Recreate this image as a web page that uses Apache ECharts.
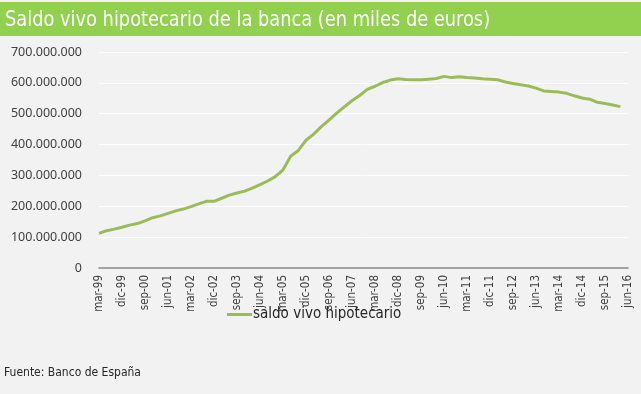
<!DOCTYPE html>
<html><head><meta charset="utf-8">
<script src="https://cdn.jsdelivr.net/npm/echarts@6/dist/echarts.min.js"></script>
<style>html,body{margin:0;padding:0;background:#f2f2f2}#c{width:641px;height:394px}</style>
</head><body><div id="c"></div>
<script>
const titleText = 'Saldo vivo hipotecario de la banca (en miles de euros)';
const sourceText = 'Fuente: Banco de España';
const seriesName = 'saldo vivo hipotecario';
const categories = [
 'mar-99','jun-99','sep-99','dic-99','mar-00','jun-00','sep-00','dic-00',
 'mar-01','jun-01','sep-01','dic-01','mar-02','jun-02','sep-02','dic-02',
 'mar-03','jun-03','sep-03','dic-03','mar-04','jun-04','sep-04','dic-04',
 'mar-05','jun-05','sep-05','dic-05','mar-06','jun-06','sep-06','dic-06',
 'mar-07','jun-07','sep-07','dic-07','mar-08','jun-08','sep-08','dic-08',
 'mar-09','jun-09','sep-09','dic-09','mar-10','jun-10','sep-10','dic-10',
 'mar-11','jun-11','sep-11','dic-11','mar-12','jun-12','sep-12','dic-12',
 'mar-13','jun-13','sep-13','dic-13','mar-14','jun-14','sep-14','dic-14',
 'mar-15','jun-15','sep-15','dic-15','mar-16','jun-16'
];
const saldoVivo = [
 112000000,121000000,126000000,132000000,139000000,144000000,153000000,163000000,
 169000000,177000000,185000000,191000000,199000000,208000000,216000000,216000000,
 226000000,236000000,243000000,249000000,259000000,270000000,282000000,296000000,
 318000000,362000000,381000000,414000000,434000000,458000000,479000000,502000000,
 522000000,542000000,559000000,579000000,589000000,601000000,609000000,613000000,
 611000000,610000000,610000000,612000000,614000000,621000000,617000000,620000000,
 617000000,616000000,613000000,612000000,610000000,603000000,598000000,594000000,
 590000000,583000000,574000000,572000000,570000000,566000000,558000000,551000000,
 547000000,537000000,533000000,528000000,523000000
];
const yTicks = {min: 0, max: 700000000, interval: 100000000};

const narrow = "'DejaVu Sans Condensed','Liberation Sans Narrow',sans-serif";
const chart = echarts.init(document.getElementById('c'), null, {renderer: 'canvas'});
chart.setOption({
  backgroundColor: '#f2f2f2',
  animation: false,
  graphic: [
    {type: 'rect', shape: {x: 0, y: 2, width: 641, height: 34}, style: {fill: '#92D050'}, silent: true},
    {type: 'text', x: 5, y: 20, scaleX: 0.9, style: {text: titleText, fill: '#ffffff', font: '22px ' + narrow, verticalAlign: 'middle'}},
    {type: 'text', x: 4, y: 373, scaleX: 0.96, style: {text: sourceText, fill: '#262626', font: '12.5px ' + narrow, verticalAlign: 'middle'}}
  ],
  legend: {
    data: [seriesName],
    left: 222, top: 302,
    icon: 'rect', itemWidth: 25, itemHeight: 3, itemGap: 4,
    textStyle: {color: '#262626', fontSize: 15, fontFamily: narrow, padding: [0,0,0,-4]}
  },
  grid: {left: 99, right: 13, top: 52, bottom: 126, containLabel: false},
  xAxis: {
    type: 'category', data: categories, boundaryGap: false,
    axisLine: {show: true, lineStyle: {color: '#868686', width: 1.5}},
    axisTick: {show: false},
    axisLabel: {interval: 2, rotate: 90, margin: 7, color: '#404040', fontSize: 11.5, fontFamily: narrow},
    splitLine: {show: false}
  },
  yAxis: {
    type: 'value', min: yTicks.min, max: yTicks.max, interval: yTicks.interval,
    axisLine: {show: false}, axisTick: {show: false},
    axisLabel: {margin: 17, color: '#404040', fontSize: 12.5, fontFamily: "'Noto Sans',sans-serif",
      formatter: v => String(v).replace(/\B(?=(\d{3})+(?!\d))/g, '.')},
    splitLine: {lineStyle: {color: '#ffffff', width: 1}}
  },
  series: [{
    name: seriesName, type: 'line', data: saldoVivo, showSymbol: false, symbol: 'none',
    lineStyle: {color: '#9BBB59', width: 3}, itemStyle: {color: '#9BBB59'}
  }]
});
</script></body></html>
